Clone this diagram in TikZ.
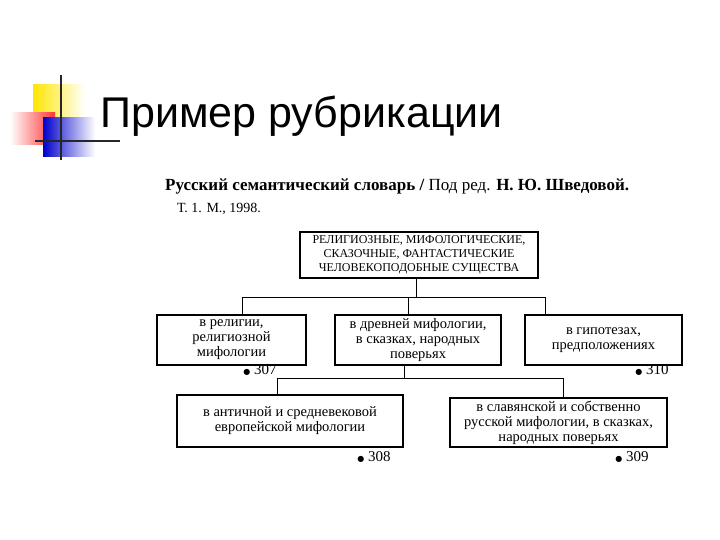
\documentclass[tikz,border=0pt]{standalone}
\usepackage{fontspec}
\setmainfont{Liberation Serif}
\newfontfamily\titlefont{Liberation Sans}
\newfontfamily\dejavu{DejaVu Sans}
\begin{document}
\begin{tikzpicture}[x=1pt,y=-1pt,
  bx/.style={draw,line width=1.2pt,inner sep=0pt,align=center,font=\fontsize{14.5}{15}\selectfont},
  ln/.style={line width=1pt},
  ref/.style={font=\fontsize{15}{15}\selectfont,anchor=center}]
\useasboundingbox (0,0) rectangle (720,540);
% logo
\shade[left color=yellow!80!orange,right color=white] (33,85) rectangle (85,130);
\shade[left color=white,right color=red!80] (10,113) rectangle (55,145);
\shade[left color=blue!80!black,right color=white] (43,118) rectangle (95,157);
\draw[line width=2pt,black!85] (61,75) -- (61,160);
\draw[line width=2pt,black!85] (35,141) -- (120,141);
\node[anchor=base west,inner sep=0pt,font=\titlefont\fontsize{43}{43}\selectfont] (title) at (100,128) {Пример рубрикации};
\node[anchor=base west,inner sep=0pt,font=\fontsize{17}{18}\selectfont] (src) at (165,191) {\textbf{Русский семантический словарь /} Под ред. \textbf{Н. Ю. Шведовой.}};
\node[anchor=base west,inner sep=0pt,font=\fontsize{14}{15}\selectfont] (vol) at (177,212) {Т. 1. М., 1998.};
\node[bx,minimum width=238,minimum height=46,font=\fontsize{12}{14}\selectfont] (top) at (419,255) {РЕЛИГИОЗНЫЕ, МИФОЛОГИЧЕСКИЕ,\\СКАЗОЧНЫЕ, ФАНТАСТИЧЕСКИЕ\\ЧЕЛОВЕКОПОДОБНЫЕ СУЩЕСТВА};
\node[bx,minimum width=149,minimum height=50] (b1) at (231.5,340) {в религии,\\религиозной\\мифологии};
\node[bx,minimum width=166,minimum height=50] (b2) at (418,340) {в древней мифологии,\\в сказках, народных\\поверьях};
\node[bx,minimum width=157,minimum height=50] (b3) at (603.5,340) {в гипотезах,\\предположениях};
\node[bx,minimum width=226,minimum height=52] (b4) at (290,421) {в античной и средневековой\\европейской мифологии};
\node[bx,minimum width=217,minimum height=49] (b5) at (558.5,422.5) {в славянской и собственно\\русской мифологии, в сказках,\\народных поверьях};
\node[ref] (r1) at (260,370) {{\dejavu\fontsize{8}{8}\selectfont●} 307};
\node[ref] (r3) at (652,370) {{\dejavu\fontsize{8}{8}\selectfont●} 310};
\node[ref] (r4) at (374,457) {{\dejavu\fontsize{8}{8}\selectfont●} 308};
\node[ref] (r5) at (632,457) {{\dejavu\fontsize{8}{8}\selectfont●} 309};
\coordinate (j1) at (416,297);
\draw[ln] (top.south -| j1) -- (j1);
\draw[ln] (b1.north -| 242,0) -- (242,297) -- (545,297) -- (b3.north -| 545,0);
\draw[ln] (408,297) -- (b2.north -| 408,0);
\coordinate (j2) at (404,378);
\draw[ln] (b2.south -| j2) -- (j2);
\draw[ln] (b4.north -| 277,0) -- (277,378) -- (563,378) -- (b5.north -| 563,0);
\end{tikzpicture}
\end{document}
